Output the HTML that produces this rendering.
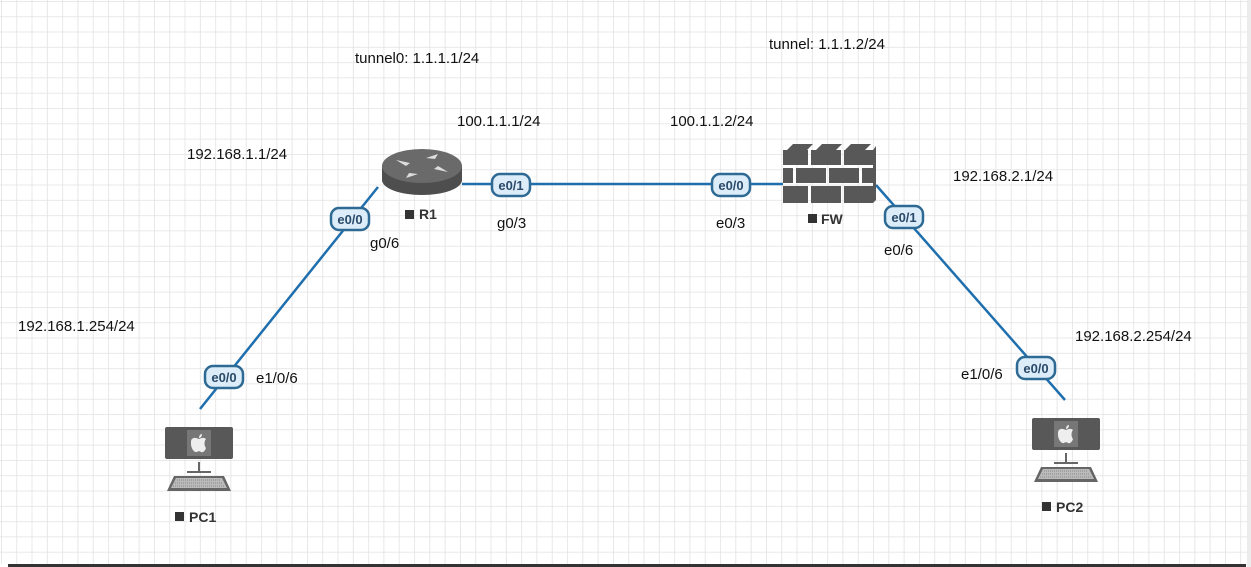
<!DOCTYPE html>
<html><head><meta charset="utf-8"><style>
html,body{margin:0;padding:0;background:#fff;}
svg{display:block;}
text{font-family:"Liberation Sans",Arial,sans-serif;}
</style></head><body>
<svg width="1251" height="567" viewBox="0 0 1251 567" xmlns="http://www.w3.org/2000/svg">
<defs>
<pattern id="g" x="1" y="1" width="15.3" height="15.3" patternUnits="userSpaceOnUse">
<path d="M0 0H15.3M0 0V15.3" stroke="#e2e2e2" stroke-width="1.6" fill="none"/>
</pattern>
<g id="pc">
<rect x="0" y="0" width="68" height="32" rx="2" fill="#585858"/>
<rect x="22" y="3" width="24" height="26" fill="#777"/>
<path d="M27 12c2-2 5-1 7 0 2-1 5-2 7 0-2 2-2 7 0 9-1 3-3 5-5 4-1-1-3-1-4 0-3 1-6-4-6-8 0-3 0-4 1-5z M34 11c0-2 1-4 3-4 0 2-1 4-3 4z" fill="#eee"/>
<rect x="33" y="35" width="2" height="9" fill="#666"/>
<rect x="22" y="44" width="24" height="2" fill="#666"/>
<path d="M9 49H59L66 64H2Z" fill="#666"/>
<path d="M11 51H57L62 61H6Z" fill="#bbb"/>
<path d="M12 53H56M10 56H58M8 59H60" stroke="#777" stroke-width="0.8" stroke-dasharray="1 1"/>
</g>
</defs>
<rect width="1251" height="567" fill="#fff"/>
<rect x="0" y="0" width="1247" height="564" fill="url(#g)"/>
<rect x="1247" y="0" width="4" height="567" fill="#ececec"/>
<rect x="8" y="564" width="1238" height="3" fill="#333"/>

<g stroke="#1f6fae" stroke-width="2.5" fill="none">
<line x1="200" y1="409" x2="378" y2="187"/>
<line x1="462" y1="184" x2="783" y2="184"/>
<line x1="876" y1="185" x2="1065" y2="400"/>
</g>

<!-- router R1 -->
<g>
<path d="M382 166v14a40 15 0 0 0 80 0v-14z" fill="#4e4e4e"/>
<ellipse cx="422" cy="166" rx="40" ry="17" fill="#6a6a6a"/>
<g fill="#ddd">
<path d="M396 160l14 3-4 3z"/>
<path d="M448 172l-14-3 4-3z"/>
<path d="M426 158l12-4-3 5z"/>
<path d="M418 174l-12 4 3-5z"/>
</g>
</g>
<rect x="405" y="210" width="9" height="9" fill="#333"/>
<text x="419" y="219" font-size="14" font-weight="bold" fill="#333">R1</text>

<!-- firewall -->
<g fill="#585858">
<path d="M787 150l6-6h20l-6 6z M816 150l6-6h20l-6 6z M845 150l6-6h20l-6 6z"/>
<path d="M873 150l3-4v54l-3 3z"/>
<rect x="783" y="150" width="25" height="15"/><rect x="811" y="150" width="30" height="15"/><rect x="844" y="150" width="29" height="15"/>
<rect x="783" y="168" width="10" height="15"/><rect x="796" y="168" width="30" height="15"/><rect x="829" y="168" width="30" height="15"/><rect x="862" y="168" width="11" height="15"/>
<rect x="783" y="186" width="25" height="17"/><rect x="811" y="186" width="30" height="17"/><rect x="844" y="186" width="29" height="17"/>
</g>
<rect x="808" y="214" width="9" height="9" fill="#333"/>
<text x="821" y="224" font-size="14" font-weight="bold" fill="#333">FW</text>

<use href="#pc" x="165" y="427"/>
<rect x="175" y="512" width="9" height="9" fill="#333"/>
<text x="189" y="522" font-size="14" font-weight="bold" fill="#333">PC1</text>
<use href="#pc" x="1032" y="418"/>
<rect x="1042" y="502" width="9" height="9" fill="#333"/>
<text x="1056" y="512" font-size="14" font-weight="bold" fill="#333">PC2</text>

<!-- badges -->
<g font-size="13" font-weight="bold" fill="#2a4a6a" text-anchor="middle">
<g><rect x="331" y="208" width="38" height="22" rx="8" fill="#dcecf8" stroke="#2e6a94" stroke-width="2.5"/><text x="350" y="224">e0/0</text></g>
<g><rect x="492" y="174" width="38" height="22" rx="8" fill="#dcecf8" stroke="#2e6a94" stroke-width="2.5"/><text x="511" y="190">e0/1</text></g>
<g><rect x="712" y="174" width="38" height="22" rx="8" fill="#dcecf8" stroke="#2e6a94" stroke-width="2.5"/><text x="731" y="190">e0/0</text></g>
<g><rect x="885" y="206" width="38" height="22" rx="8" fill="#dcecf8" stroke="#2e6a94" stroke-width="2.5"/><text x="904" y="222">e0/1</text></g>
<g><rect x="205" y="366" width="38" height="22" rx="8" fill="#dcecf8" stroke="#2e6a94" stroke-width="2.5"/><text x="224" y="382">e0/0</text></g>
<g><rect x="1017" y="357" width="38" height="22" rx="8" fill="#dcecf8" stroke="#2e6a94" stroke-width="2.5"/><text x="1036" y="373">e0/0</text></g>
</g>

<g font-size="15" fill="#111">
<text x="355" y="63">tunnel0: 1.1.1.1/24</text>
<text x="769" y="49">tunnel: 1.1.1.2/24</text>
<text x="457" y="126">100.1.1.1/24</text>
<text x="670" y="126">100.1.1.2/24</text>
<text x="187" y="159">192.168.1.1/24</text>
<text x="953" y="181">192.168.2.1/24</text>
<text x="18" y="331">192.168.1.254/24</text>
<text x="1075" y="341">192.168.2.254/24</text>
<text x="370" y="248">g0/6</text>
<text x="497" y="228">g0/3</text>
<text x="716" y="228">e0/3</text>
<text x="884" y="255">e0/6</text>
<text x="256" y="383">e1/0/6</text>
<text x="961" y="379">e1/0/6</text>
</g>
</svg>
</body></html>
